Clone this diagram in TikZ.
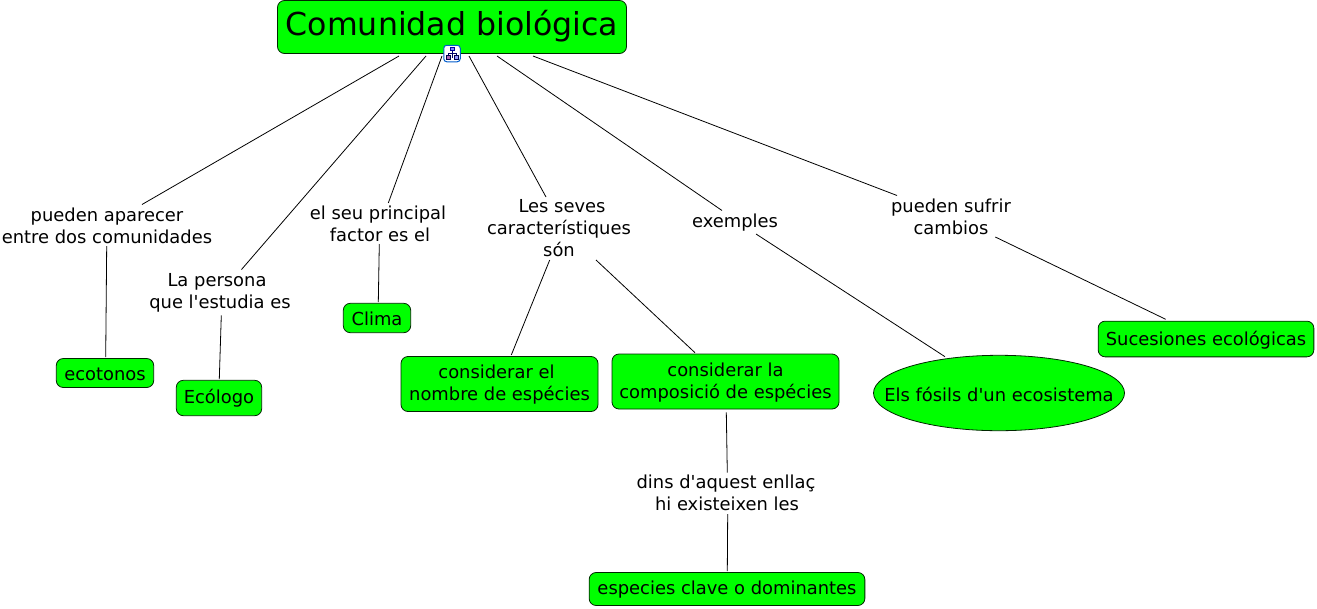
\documentclass[tikz,border=0pt]{standalone}
\usepackage{fontspec}
\setmainfont{DejaVu Sans}[Ligatures=TeXOff]
\definecolor{cg}{HTML}{00FF00}
\usetikzlibrary{shapes.geometric}
\tikzset{
 concept/.style={draw=black!85!green,fill=cg,rounded corners=7pt,line width=.8pt,inner sep=0pt,outer sep=0pt,align=center,font=\fontsize{17.9}{22}\selectfont},
 lbl/.style={inner sep=0pt,outer sep=0pt,align=center,font=\fontsize{17.9}{22}\selectfont,text=black},
 conn/.style={draw=black,line width=.8pt},
}
\newcommand{\linkit}[6]{\draw[conn] ([shift={(#2,#3)}]#1.center) -- ([shift={(#5,#6)}]#4.center);}
\newcommand{\dn}[1]{\raisebox{-1pt}[\height][\depth]{#1}}
\begin{document}
\begin{tikzpicture}[x=1pt,y=-1pt]
\useasboundingbox (0,0) rectangle (1317,608);
\node[concept,minimum width=349pt,minimum height=53pt,font=\fontsize{31.6}{40}\selectfont] (root) at (452,27) {\raisebox{1pt}[\height][\depth]{Comunidad biológica}};
\node[lbl] (l1) at (107,226) {pueden aparecer\\entre dos comunidades};
\node[lbl] (l2) at (220,293) {La persona\hspace*{6pt}\\que l'estudia es};
\node[lbl] (l3) at (378,224) {el seu principal\\\hspace*{4pt}factor es el};
\node[lbl] (l4) at (559,228) {\hspace*{6pt}Les seves\\característiques\\són};
\node[lbl] (l5) at (735,222.5) {exemples};
\node[lbl] (l6) at (951,217) {pueden sufrir\\cambios};
\node[lbl] (l7) at (726,493) {dins d'aquest enllaç\\\hspace*{2pt}hi existeixen les};
\node[concept,minimum width=97.4pt,minimum height=29pt] (c1) at (105,373) {\dn{ecotonos}};
\node[concept,minimum width=85.4pt,minimum height=35.4pt] (c2) at (219,398) {Ecólogo};
\node[concept,minimum width=67.4pt,minimum height=29.4pt] (c3) at (377,318) {\dn{Clima}};
\node[concept,minimum width=197pt,minimum height=55pt] (c4) at (499.5,384) {\dn{considerar el\hspace*{6pt}}\\\dn{nombre de espécies}};
\node[concept,minimum width=227pt,minimum height=55pt] (c5) at (725.5,381.5) {\dn{considerar la}\\\dn{composició de espécies}};
\node[concept,ellipse,minimum width=251pt,minimum height=75.4pt] (c6) at (999,393) {\makebox[0pt]{\dn{Els fósils d'un ecosistema}}};
\node[concept,minimum width=215.7pt,minimum height=35.7pt] (c7) at (1206,339) {\dn{Sucesiones ecológicas}};
\node[concept,minimum width=275.7pt,minimum height=33pt] (c8) at (727,589) {\dn{especies clave o dominantes}};
\linkit{root}{-53}{29}{l1}{35}{-21.5}
\linkit{root}{-26}{29}{l2}{21.5}{-23.5}
\linkit{root}{-10}{29}{l3}{10.3}{-21}
\linkit{root}{17}{29}{l4}{-13}{-31}
\linkit{root}{45}{29}{l5}{-13}{-12}
\linkit{root}{81}{29}{l6}{-54}{-21.5}
\linkit{l1}{-0.3}{20}{c1}{0.7}{-16}
\linkit{l2}{1.3}{22.3}{c2}{0.3}{-19}
\linkit{l3}{1.3}{20}{c3}{1.3}{-16}
\linkit{l4}{-9.3}{32}{c4}{11.8}{-29}
\linkit{l4}{37}{32}{c5}{-30.5}{-28.8}
\linkit{l5}{21}{11.5}{c6}{-54}{-36.3}
\linkit{l6}{44.3}{20}{c7}{-40.3}{-19.7}
\linkit{c5}{0.8}{30.8}{l7}{1.3}{-20.3}
\linkit{l7}{1.7}{21}{c8}{0.3}{-18}
\node[draw=blue!55!cyan!80!black,fill=white,rounded corners=3pt,line width=1pt,minimum width=16.5pt,minimum height=16.5pt,inner sep=0pt] (icon) at (452,53.5) {};
\begin{scope}[shift={(icon.center)},line width=.7pt]
\draw[blue!40!black] (0,-3) -- (0,0) (-4,2) -- (-4,0) -- (4,0) -- (4,2) (0,0) -- (0,4);
\draw[blue!60!black,fill=blue!50] (-2,-6) rectangle (2,-3);
\draw[blue!30!black,fill=red!50!blue!60] (-6,2) rectangle (-2,5.5);
\draw[blue!30!black,fill=blue!40] (2,2) rectangle (6,5.5);
\end{scope}
\end{tikzpicture}
\end{document}
